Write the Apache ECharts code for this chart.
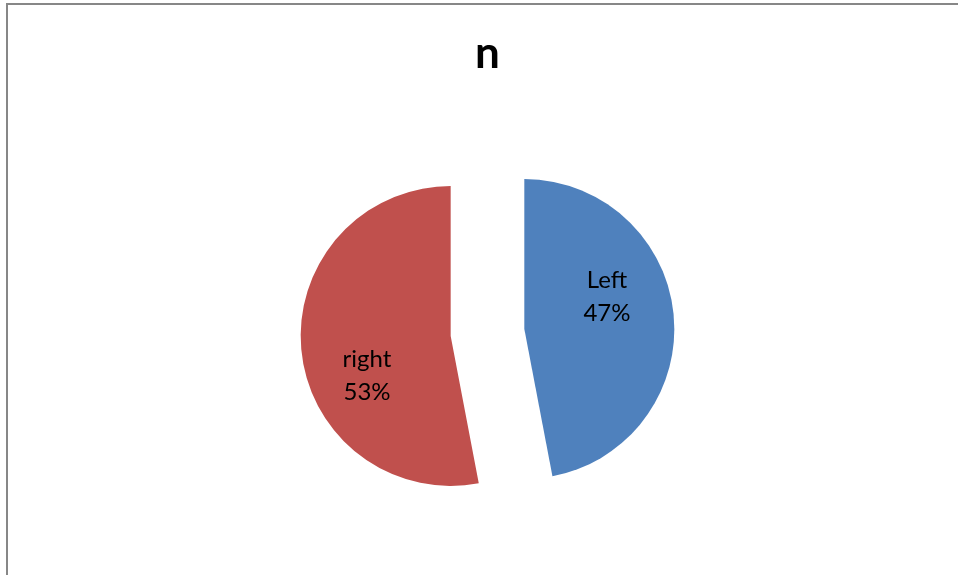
<!DOCTYPE html>
<html>
<head>
<meta charset="utf-8">
<script src="https://cdn.jsdelivr.net/npm/echarts@6/dist/echarts.min.js"></script>
<style>
  html, body { margin: 0; padding: 0; background: #fff; }
  #chart { width: 958px; height: 575px; }
</style>
</head>
<body>
<div id="chart"></div>
<script>
// Share of each side
const categories = ['Left', 'right'];
const shares = [47, 53];
const sliceColors = ['#4F81BD', '#C0504D'];
// Nudge of each inside label from its default spot
const labelShifts = [[5, -25], [-6, 32]];

const chart = echarts.init(document.getElementById('chart'));

const pieData = categories.map((name, i) => ({
  name: name,
  value: shares[i],
  selected: true,
  itemStyle: { color: sliceColors[i] }
}));

chart.setOption({
  animation: false,
  backgroundColor: '#ffffff',
  title: {
    text: 'n',
    left: 470,
    top: 27,
    textStyle: {
      fontFamily: 'Lato',
      fontWeight: 'bold',
      fontSize: 44,
      color: '#000'
    }
  },
  graphic: [{
    type: 'rect',
    silent: true,
    shape: { x: 7, y: 4, width: 1200, height: 1200 },
    style: { fill: 'none', stroke: '#878787', lineWidth: 2 }
  }],
  series: [{
    type: 'pie',
    center: [487.5, 332.5],
    radius: 150,
    startAngle: 90,
    clockwise: true,
    selectedMode: 'multiple',
    selectedOffset: 37,
    emphasis: { disabled: true },
    itemStyle: { borderWidth: 0 },
    labelLine: { show: false },
    label: {
      show: true,
      position: 'inside',
      fontFamily: 'Lato',
      fontSize: 24,
      lineHeight: 33,
      color: '#000',
      formatter: p => p.name + '\n' + p.percent + '%'
    },
    labelLayout: p => ({ dx: labelShifts[p.dataIndex][0], dy: labelShifts[p.dataIndex][1] }),
    data: pieData
  }]
});
</script>
</body>
</html>
